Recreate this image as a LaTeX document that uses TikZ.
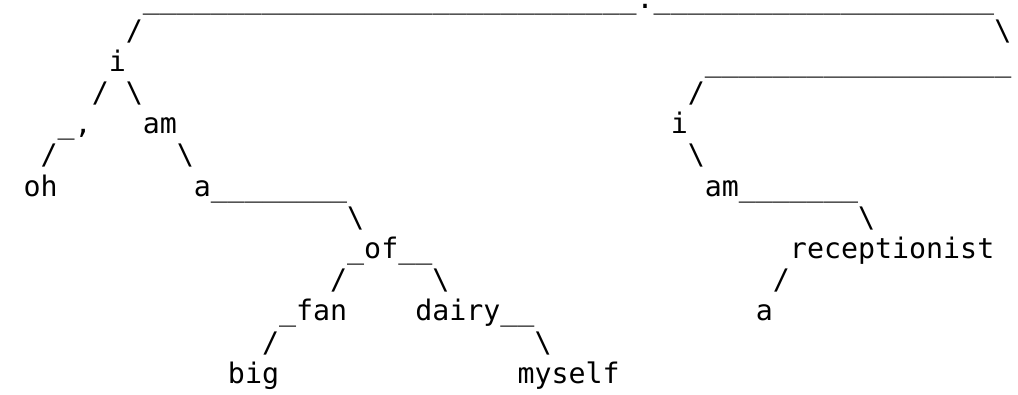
\documentclass[tikz,border=0pt]{standalone}
\usepackage{fontspec}
\setmonofont{DejaVu Sans Mono}
\ExplSyntaxOn
% a run of n underscore glyphs, used for the horizontal branches
\cs_new:Npn \underrun #1 { \prg_replicate:nn {#1} { \textunderscore } }
\ExplSyntaxOff
\begin{document}
\begin{tikzpicture}[
  glyph/.style={anchor=base west, inner sep=0pt, outer sep=0pt,
    font=\ttfamily\fontsize{28.28pt}{31.2pt}\selectfont}
]
\useasboundingbox (0,0) rectangle (1018pt,-394pt);
\clip (0,0) rectangle (1018pt,-394pt);
% character grid: one unit = one column / one text line
\begin{scope}[shift={(6.6pt,-8.8pt)}, x=17.03pt, y=-31.2pt]
  % line 0
  \node[glyph] (top-l)  at (8,0)  {\underrun{29}};
  \node[glyph] (dot1)   at (37,0) {.};
  \node[glyph] (top-r)  at (38,0) {\underrun{20}};
  % line 1
  \node[glyph] (s1a) at (7,1)  {/};
  \node[glyph] (s1b) at (58,1) {\textbackslash};
  % line 2
  \node[glyph] (i1)    at (6,2)  {i};
  \node[glyph] (mid-r) at (41,2) {\underrun{18}};
  \node[glyph] (dot2)  at (59,2) {.};
  % line 3
  \node[glyph] (s3a) at (5,3)  {/};
  \node[glyph] (s3b) at (7,3)  {\textbackslash};
  \node[glyph] (s3c) at (40,3) {/};
  % line 4
  \node[glyph] (comma) at (3,4)  {\textunderscore,};
  \node[glyph] (am1)   at (8,4)  {am};
  \node[glyph] (i2)    at (39,4) {i};
  % line 5
  \node[glyph] (s5a) at (2,5)  {/};
  \node[glyph] (s5b) at (10,5) {\textbackslash};
  \node[glyph] (s5c) at (40,5) {\textbackslash};
  % line 6
  \node[glyph] (oh)   at (1,6)  {oh};
  \node[glyph] (a1)   at (11,6) {a};
  \node[glyph] (a1r)  at (12,6) {\underrun{8}};
  \node[glyph] (am2)  at (41,6) {am};
  \node[glyph] (am2r) at (43,6) {\underrun{7}};
  % line 7
  \node[glyph] (s7a) at (20,7) {\textbackslash};
  \node[glyph] (s7b) at (50,7) {\textbackslash};
  % line 8
  \node[glyph] (of)    at (20,8) {\textunderscore of\textunderscore\textunderscore};
  \node[glyph] (recep) at (46,8) {receptionist};
  % line 9
  \node[glyph] (s9a) at (19,9) {/};
  \node[glyph] (s9b) at (25,9) {\textbackslash};
  \node[glyph] (s9c) at (45,9) {/};
  % line 10
  \node[glyph] (fan)   at (16,10) {\textunderscore fan};
  \node[glyph] (dairy) at (24,10) {dairy\textunderscore\textunderscore};
  \node[glyph] (a2)    at (44,10) {a};
  % line 11
  \node[glyph] (s11a) at (15,11) {/};
  \node[glyph] (s11b) at (31,11) {\textbackslash};
  % line 12
  \node[glyph] (big)    at (13,12) {big};
  \node[glyph] (myself) at (30,12) {myself};
\end{scope}
\end{tikzpicture}
\end{document}
